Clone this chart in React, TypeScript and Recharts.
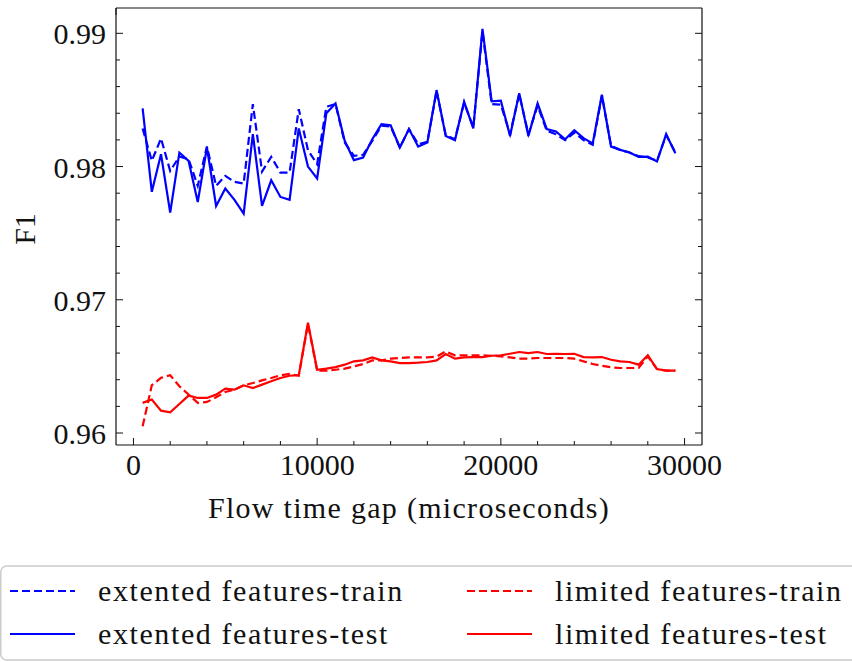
import { LineChart, Line, XAxis, YAxis, Label } from 'recharts'

// flow time gap (microseconds)
const gaps = [
  500, 1000, 1500, 2000, 2500, 3000, 3500, 4000, 4500, 5000,
  5500, 6000, 6500, 7000, 7500, 8000, 8500, 9000, 9500, 10000,
  10500, 11000, 11500, 12000, 12500, 13000, 13500, 14000, 14500, 15000,
  15500, 16000, 16500, 17000, 17500, 18000, 18500, 19000, 19500, 20000,
  20500, 21000, 21500, 22000, 22500, 23000, 23500, 24000, 24500, 25000,
  25500, 26000, 26500, 27000, 27500, 28000, 28500, 29000, 29500,
]

const extTrain = [
  0.98286, 0.98043, 0.98211, 0.97967, 0.98075, 0.98055, 0.97855, 0.9815, 0.97855, 0.9793,
  0.97885, 0.97872, 0.98469, 0.97962, 0.98073, 0.97955, 0.97955, 0.98431, 0.98123, 0.98018,
  0.98449, 0.98469, 0.9818, 0.9808, 0.98088, 0.98193, 0.98306, 0.983, 0.98143, 0.98281,
  0.98168, 0.98185, 0.98565, 0.98235, 0.98205, 0.98478, 0.98295, 0.99015, 0.98469, 0.98464,
  0.98243, 0.98543, 0.98243, 0.98456, 0.98268, 0.98243, 0.98198, 0.98255, 0.98198, 0.98163,
  0.98531, 0.98155, 0.98125, 0.98105, 0.98078, 0.98068, 0.98043, 0.98238, 0.98105,
]

const extTest = [
  0.98436, 0.9781, 0.98093, 0.97654, 0.98105, 0.98043, 0.97734, 0.98143, 0.97704, 0.97835,
  0.9775, 0.97647, 0.98243, 0.97704, 0.97897, 0.97772, 0.9775, 0.98286, 0.98, 0.9791,
  0.984, 0.98474, 0.98193, 0.98048, 0.98068, 0.98205, 0.98318, 0.9831, 0.98143, 0.98281,
  0.9815, 0.9818, 0.98574, 0.9823, 0.98198, 0.98486, 0.98286, 0.99033, 0.98489, 0.98494,
  0.9823, 0.98551, 0.9823, 0.98474, 0.98281, 0.98263, 0.98205, 0.98273, 0.98213, 0.98173,
  0.98539, 0.9815, 0.98125, 0.98105, 0.98073, 0.98075, 0.98038, 0.98243, 0.981,
]

const limTrain = [
  0.9605, 0.96359, 0.96414, 0.96434, 0.96351, 0.96289, 0.96226, 0.96233, 0.96268, 0.96308,
  0.96325, 0.96358, 0.96375, 0.96395, 0.96413, 0.96433, 0.96443, 0.9643, 0.9682, 0.96468,
  0.96468, 0.96475, 0.96483, 0.965, 0.96518, 0.96545, 0.96545, 0.96558, 0.96563, 0.96568,
  0.96568, 0.96568, 0.96573, 0.96613, 0.96583, 0.96583, 0.96583, 0.96583, 0.9658, 0.96575,
  0.96568, 0.96558, 0.96558, 0.96563, 0.96563, 0.96563, 0.96563, 0.96558, 0.96538, 0.96518,
  0.96505, 0.96493, 0.96488, 0.96488, 0.96488, 0.96575, 0.9648, 0.96468, 0.96468,
]

const limTest = [
  0.96226, 0.96251, 0.96168, 0.96156, 0.96218, 0.96281, 0.96263, 0.96263, 0.96288, 0.96333,
  0.96325, 0.96358, 0.96338, 0.96363, 0.96388, 0.96413, 0.9643, 0.96434, 0.96828, 0.96475,
  0.96483, 0.96495, 0.96513, 0.96538, 0.96545, 0.96568, 0.96545, 0.96538, 0.96525, 0.96525,
  0.96528, 0.96533, 0.96545, 0.96593, 0.96558, 0.96568, 0.9657, 0.9657, 0.9658, 0.96583,
  0.96595, 0.96608, 0.966, 0.96608, 0.96593, 0.96595, 0.96593, 0.96595, 0.9657, 0.96568,
  0.9657, 0.9655, 0.96538, 0.96533, 0.96513, 0.96583, 0.9648, 0.96468, 0.96468,
]

const xTicks = [0, 2000, 4000, 6000, 8000, 10000, 12000, 14000, 16000, 18000, 20000, 22000, 24000, 26000, 28000, 30000]
const xMajor = [0, 10000, 20000, 30000]
const yTicks = [0.96, 0.962, 0.964, 0.966, 0.968, 0.97, 0.972, 0.974, 0.976, 0.978, 0.98, 0.982, 0.984, 0.986, 0.988, 0.99]
const yMajor = [0.96, 0.97, 0.98, 0.99]

const series = [
  { key: 'extTrain', name: 'extented features-train', color: '#0000ff', dash: '8 4' },
  { key: 'extTest', name: 'extented features-test', color: '#0000ff', dash: undefined },
  { key: 'limTrain', name: 'limited features-train', color: '#ff0000', dash: '8 4' },
  { key: 'limTest', name: 'limited features-test', color: '#ff0000', dash: undefined },
]

const data = gaps.map((g, i) => ({
  gap: g,
  extTrain: extTrain[i],
  extTest: extTest[i],
  limTrain: limTrain[i],
  limTest: limTest[i],
}))

const FONT = '"Liberation Serif", "Times New Roman", serif'
const INK = '#111'

function BottomTick({ x, y, payload }: any) {
  const major = xMajor.includes(payload.value)
  return (
    <g>
      <line x1={x} x2={x} y1={y} y2={y - (major ? 7 : 4)} stroke={INK} strokeWidth={1} />
      {major && (
        <text x={x} y={y + 30} textAnchor="middle" fontSize={30} fontFamily={FONT} fill={INK}>
          {payload.value}
        </text>
      )}
    </g>
  )
}

function TopTick({ x, y, payload }: any) {
  const major = xMajor.includes(payload.value)
  return <line x1={x} x2={x} y1={y} y2={y + (major ? 7 : 4)} stroke={INK} strokeWidth={1} />
}

function LeftTick({ x, y, payload }: any) {
  const major = yMajor.includes(payload.value)
  return (
    <g>
      <line x1={x} x2={x + (major ? 7 : 4)} y1={y} y2={y} stroke={INK} strokeWidth={1} />
      {major && (
        <text x={x - 10} y={y + 11} textAnchor="end" fontSize={30} fontFamily={FONT} fill={INK}>
          {payload.value.toFixed(2)}
        </text>
      )}
    </g>
  )
}

function RightTick({ x, y, payload }: any) {
  const major = yMajor.includes(payload.value)
  return <line x1={x} x2={x - (major ? 7 : 4)} y1={y} y2={y} stroke={INK} strokeWidth={1} />
}

function ChartLegend() {
  const cols = [10, 467]
  const rows = [591, 634]
  return (
    <svg width={852} height={662} style={{ position: 'absolute', left: 0, top: 0, pointerEvents: 'none' }}>
      <rect x={0.75} y={566} width={880} height={94} rx={6} fill="#fff" stroke="#cccccc" strokeWidth={1.5} />
      {series.map((s, i) => {
        const cx = cols[Math.floor(i / 2)]
        const cy = rows[i % 2]
        return (
          <g key={s.key}>
            <line x1={cx} x2={cx + 65} y1={cy} y2={cy} stroke={s.color} strokeWidth={2.2} strokeDasharray={s.dash} />
            <text x={cx + 88} y={cy + 10} fontSize={30} fontFamily={FONT} fill={INK} letterSpacing={1.6}>
              {s.name}
            </text>
          </g>
        )
      })}
    </svg>
  )
}

export default function App() {
  return (
    <div style={{ position: 'fixed', left: 0, top: 0, width: 852, height: 662, overflow: 'hidden', background: '#fff' }}>
      <LineChart width={852} height={662} data={data} margin={{ top: 4, right: 140, bottom: 157, left: 0 }}>
        <XAxis
          dataKey="gap"
          type="number"
          domain={[-950, 30950]}
          allowDataOverflow
          ticks={xTicks}
          interval={0}
          tickSize={0}
          tickMargin={0}
          tickLine={false}
          height={60}
          axisLine={{ stroke: INK, strokeWidth: 1.2 }}
          tick={(p: any) => <BottomTick {...p} />}
        >
          <Label
            content={(p: any) => {
              const vb = p.viewBox
              return (
                <text x={vb.x + vb.width / 2} y={vb.y + 73} textAnchor="middle" fontSize={30} fontFamily={FONT} fill={INK} letterSpacing={1.3}>
                  Flow time gap (microseconds)
                </text>
              )
            }}
          />
        </XAxis>
        <XAxis
          xAxisId="top"
          orientation="top"
          type="number"
          domain={[-950, 30950]}
          allowDataOverflow
          ticks={xTicks}
          interval={0}
          tickSize={0}
          tickMargin={0}
          tickLine={false}
          height={4}
          axisLine={{ stroke: INK, strokeWidth: 1.2 }}
          tick={(p: any) => <TopTick {...p} />}
        />
        <YAxis
          type="number"
          domain={[0.9591, 0.9919]}
          allowDataOverflow
          ticks={yTicks}
          interval={0}
          tickSize={0}
          tickMargin={0}
          tickLine={false}
          width={116}
          axisLine={{ stroke: INK, strokeWidth: 1.2 }}
          tick={(p: any) => <LeftTick {...p} />}
        >
          <Label
            content={() => (
              <text x={35} y={229} transform="rotate(-90, 35, 229)" textAnchor="middle" fontSize={30} fontFamily={FONT} fill={INK}>
                F1
              </text>
            )}
          />
        </YAxis>
        <YAxis
          yAxisId="right"
          orientation="right"
          type="number"
          domain={[0.9591, 0.9919]}
          allowDataOverflow
          ticks={yTicks}
          interval={0}
          tickSize={0}
          tickMargin={0}
          tickLine={false}
          width={10}
          axisLine={{ stroke: INK, strokeWidth: 1.2 }}
          tick={(p: any) => <RightTick {...p} />}
        />
        {series.map((s) => (
          <Line
            key={s.key}
            dataKey={s.key}
            name={s.name}
            type="linear"
            stroke={s.color}
            strokeWidth={2.2}
            strokeDasharray={s.dash}
            dot={false}
            activeDot={false}
            isAnimationActive={false}
          />
        ))}
      </LineChart>
      <ChartLegend />
    </div>
  )
}
